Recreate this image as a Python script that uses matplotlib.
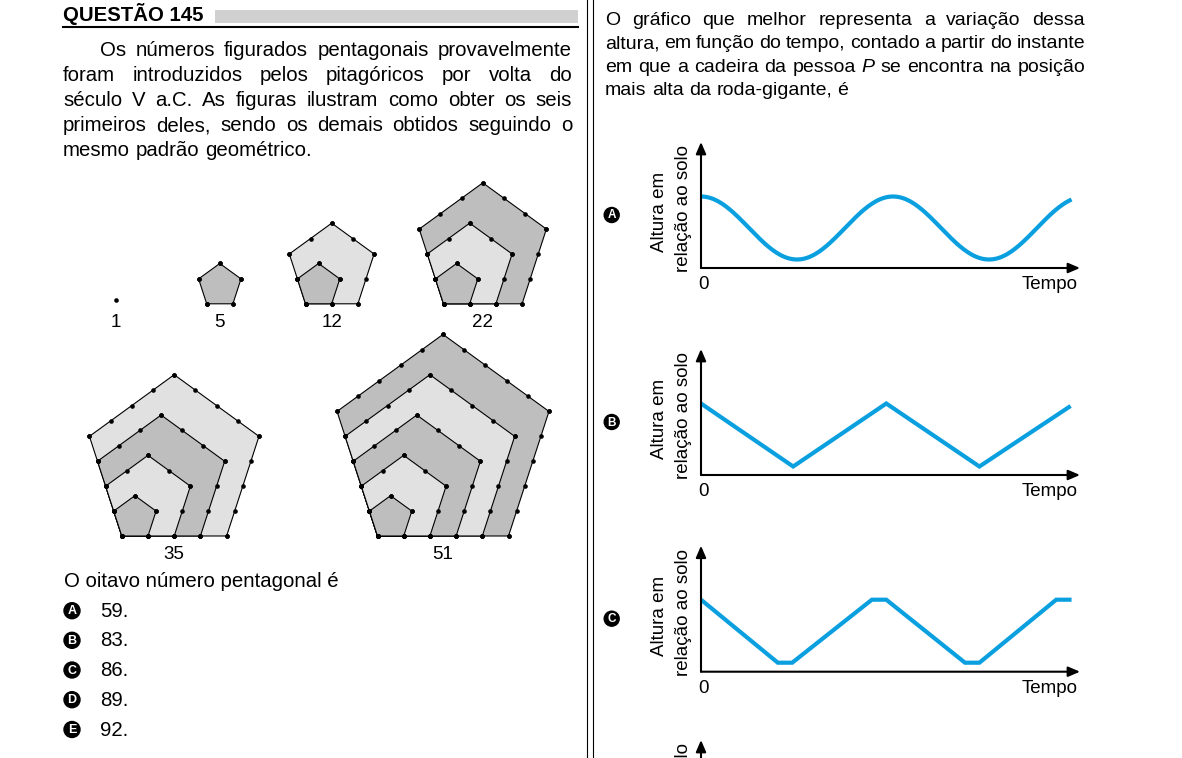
import matplotlib
matplotlib.use("Agg")
import matplotlib.pyplot as plt
import numpy as np
from matplotlib.patches import Polygon, Circle, Rectangle

plt.rcParams['font.family'] = ['Liberation Sans', 'DejaVu Sans']

W, H = 1182, 758

# ---- data ----
pent_numbers = [1, 5, 12, 22, 35, 51]
answer_letters = ["A", "B", "C", "D", "E"]
answer_values = ["59.", "83.", "86.", "89.", "92."]

left_lines = [
    "Os números figurados pentagonais provavelmente",
    "foram introduzidos pelos pitagóricos por volta do",
    "século V a.C. As figuras ilustram como obter os seis",
    "primeiros deles, sendo os demais obtidos seguindo o",
    "mesmo padrão geométrico.",
]
right_lines = [
    "O gráfico que melhor representa a variação dessa",
    "altura, em função do tempo, contado a partir do instante",
    "em que a cadeira da pessoa *P* se encontra na posição",
    "mais alta da roda-gigante, é",
]

# option A: cosine, peak / trough heights, half period, end time
a_peak, a_trough, a_half, a_end = 71.5, 8.5, 1.0, 3.86
# option B: (tempo, altura)
b_t = [0, 0.96, 1.93, 2.9, 3.85]
b_h = [71.5, 8.5, 71.5, 8.5, 69]
# option C
c_t = [0, 0.8, 0.95, 1.78, 1.93, 2.75, 2.9, 3.7, 3.86]
c_h = [72, 9, 9, 72, 72, 9, 9, 72, 72]

BLUE = "#0aa0e0"
DARK = "#bebebe"
LIGHT = "#e1e1e1"

fig = plt.figure(figsize=(W / 100, H / 100), dpi=100)
bg = fig.add_axes([0, 0, 1, 1])
bg.set_xlim(0, W)
bg.set_ylim(H, 0)
bg.axis("off")
renderer = fig.canvas.get_renderer()


def justify(line, x0, x1, y, size, last=False):
    texts = []
    for w in line.split(" "):
        style = "normal"
        if w.startswith("*"):
            w = w.strip("*")
            style = "italic"
        texts.append(bg.text(0, y, w, fontsize=size, style=style,
                             ha="left", va="baseline"))
    widths = [t.get_window_extent(renderer).width for t in texts]
    if last:
        gap = 0.278 * size * 100 / 72
    else:
        gap = (x1 - x0 - sum(widths)) / (len(texts) - 1)
    x = x0
    for t, w in zip(texts, widths):
        t.set_x(x)
        x += w + gap


def badge(x, y, letter, r=8, size=9):
    bg.add_patch(Circle((x, y), r, color="black", zorder=5))
    bg.text(x, y + 0.5, letter, color="white", fontsize=size, fontweight="bold",
            ha="center", va="center", zorder=6)


# ---- header and column dividers ----
bg.text(63, 21, "QUESTÃO 145", fontsize=14.7, fontweight="bold", va="baseline")
bg.add_patch(Rectangle((215, 10), 363, 12.7, color="#d0d0d0", lw=0))
bg.plot([63, 578], [26.5, 26.5], color="black", lw=1.5)
bg.plot([587, 587], [0, H], color="black", lw=0.8)
bg.plot([593, 593], [0, H], color="black", lw=0.8)

# ---- left paragraph ----
left_base = [56, 81, 106, 131, 155.5]
for i, (line, yb) in enumerate(zip(left_lines, left_base)):
    x0 = 100 if i == 0 else 63
    justify(line, x0, 572, yb, 14.7, last=(i == len(left_lines) - 1))

# ---- right paragraph ----
right_base = [25, 48.3, 71.7, 95]
for i, (line, yb) in enumerate(zip(right_lines, right_base)):
    justify(line, 605, 1085, yb, 14, last=(i == len(right_lines) - 1))

# ---- pentagonal figures ----
u = 26.2
c72, s72 = np.cos(np.radians(72)), np.sin(np.radians(72))
s36 = np.sin(np.radians(36))
fig_x = [116.3, 206.7, 305.5, 443.5, 121.8, 377.5]
fig_y = [300, 303.8, 303.8, 303.8, 536, 536]
label_y = [326.7, 326.7, 326.7, 326.7, 559, 559]


def pent_vertices(x0, y0, s):
    return np.array([
        (x0, y0), (x0 + s, y0), (x0 + s + s * c72, y0 - s * s72),
        (x0 + s / 2, y0 - s * (s72 + s36)), (x0 - s * c72, y0 - s * s72)])


for idx, val in enumerate(pent_numbers):
    n = idx + 1
    x0, y0 = fig_x[idx], fig_y[idx]
    dots = [(x0, y0)]
    for k in range(n - 1, 0, -1):
        v = pent_vertices(x0, y0, k * u)
        bg.add_patch(Polygon(v, closed=True, facecolor=DARK if k % 2 else LIGHT,
                             edgecolor="black", lw=0.8, zorder=2 + (n - k)))
        for e in range(5):
            a, b = v[e], v[(e + 1) % 5]
            for j in range(k + 1):
                dots.append(tuple(a + (b - a) * j / k))
    dots = np.array(dots)
    bg.scatter(dots[:, 0], dots[:, 1], s=11, color="black", zorder=20, lw=0)
    cx = x0 + (n - 1) * u / 2
    bg.text(cx, label_y[idx], str(val), fontsize=13.5, ha="center", va="baseline")

# ---- question and answers ----
bg.text(64, 586.7, "O oitavo número pentagonal é", fontsize=14.7, va="baseline")
ans_base = [616.7, 646.3, 676, 705.7, 735.5]
for letter, value, yb in zip(answer_letters, answer_values, ans_base):
    badge(72, yb - 6, letter)
    bg.text(100, yb, value, fontsize=14.7, va="baseline")

# ---- option graphs ----
GX0, GX1, GH = 701, 1080, 126
t_unit = 96.0
arrow = dict(arrowstyle="-|>,head_length=0.7,head_width=0.3", color="black",
             lw=1.5, shrinkA=0, shrinkB=0, mutation_scale=10)


def graph(oy, letter, t, h):
    ax = fig.add_axes([GX0 / W, 1 - oy / H, (GX1 - GX0) / W, GH / H])
    ax.set_xlim(0, (GX1 - GX0) / t_unit)
    ax.set_ylim(0, GH)
    ax.axis("off")
    ax.annotate("", xy=(0, 1), xytext=(0, 0), xycoords="axes fraction", arrowprops=arrow)
    ax.annotate("", xy=(1, 0), xytext=(0, 0), xycoords="axes fraction", arrowprops=arrow)
    ax.plot(t, h, color=BLUE, lw=3, solid_joinstyle="miter", solid_capstyle="butt")
    bg.text(659, oy - 56, "Altura em", rotation=90, fontsize=13.5, ha="center", va="center")
    bg.text(683, oy - 59.7, "relação ao solo", rotation=90, fontsize=13.5,
            ha="center", va="center")
    bg.text(703.3, oy + 21.3, "0", fontsize=13.5, ha="center", va="baseline")
    bg.text(1078, oy + 21.3, "Tempo", fontsize=13.5, ha="right", va="baseline")
    badge(611.7, oy - 53, letter, r=7.5, size=8.5)
    return ax


ta = np.linspace(0, a_end, 300)
mid, amp = (a_peak + a_trough) / 2, (a_peak - a_trough) / 2
graph(268, "A", ta, mid + amp * np.cos(np.pi * ta / a_half))
graph(475, "B", b_t, b_h)
graph(671.7, "C", c_t, c_h)

# start of option D, cut by the bottom edge of the page
bg.annotate("", xy=(701, 740), xytext=(701, 800), arrowprops=arrow)
bg.text(683, 866.7 - 59.7, "relação ao solo", rotation=90, fontsize=13.5,
        ha="center", va="center")

fig.savefig("out.png", dpi=100)
